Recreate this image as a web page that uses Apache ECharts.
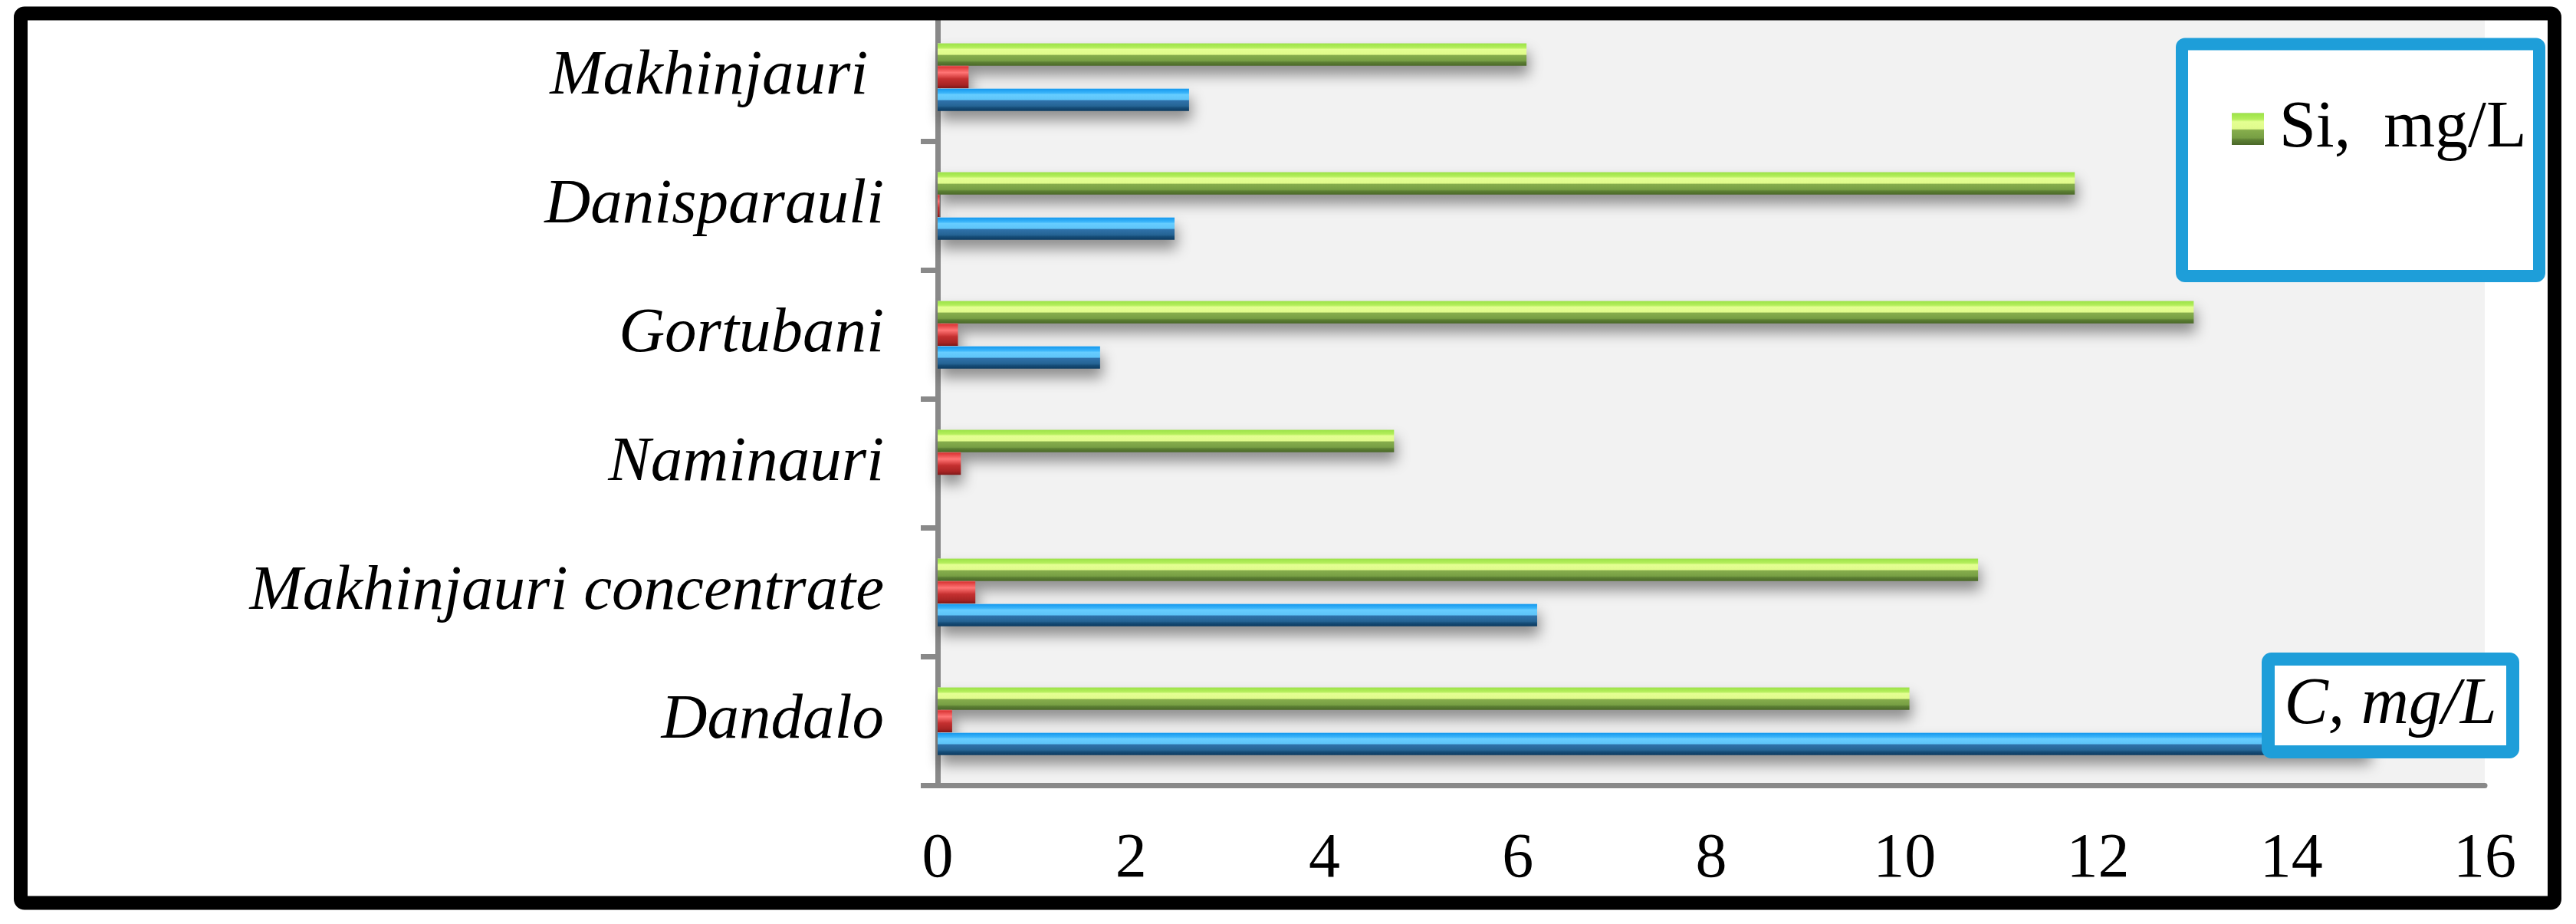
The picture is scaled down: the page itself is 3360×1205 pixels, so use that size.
<!DOCTYPE html>
<html>
<head>
<meta charset="utf-8">
<script src="https://cdn.jsdelivr.net/npm/echarts@6/dist/echarts.min.js"></script>
<style>
  html, body { margin: 0; padding: 0; background: #ffffff; }
  #chart { width: 3360px; height: 1205px; }
</style>
</head>
<body>
<div id="chart"></div>
<script>
// ---- data (bottom category first, as ECharts lays out a category y axis) ----
const categories = ['Dandalo', 'Makhinjauri concentrate', 'Naminauri', 'Gortubani', 'Danisparauli', 'Makhinjauri '];
const blueValues  = [14.8, 6.20, null, 1.68, 2.45, 2.60];
const redValues   = [0.15, 0.39, 0.24, 0.21, 0.02, 0.32];
const siValues    = [10.05, 10.76, 4.72, 12.99, 11.76, 6.09];
const valueTicks  = { min: 0, max: 16, interval: 2 };
const siName = 'Si,  mg/L';
const axisNote = 'C, mg/L';

const grad = (stops) => new echarts.graphic.LinearGradient(0, 0, 0, 1,
  stops.map(s => ({ offset: s[0], color: s[1] })));

const greenFill = grad([[0, '#c3e39a'], [0.04, '#9fe44a'], [0.2, '#b4ee5c'], [0.28, '#e4ff92'], [0.5, '#e0fb8c'], [0.54, '#86ad4c'], [0.78, '#779f44'], [0.84, '#5d8034'], [1, '#4a6828']]);
const blueFill  = grad([[0, '#a9d6f2'], [0.04, '#1a9cef'], [0.2, '#3ab4fa'], [0.28, '#66cdff'], [0.5, '#5ec4f8'], [0.54, '#2f72ab'], [0.78, '#256494'], [0.86, '#164d78'], [1, '#0c3a60']]);
const redFill   = grad([[0, '#e86060'], [0.06, '#dd3a3a'], [0.3, '#ff7474'], [0.5, '#d84444'], [0.58, '#c43030'], [0.85, '#a82424'], [1, '#7f1818']]);

const shadow = { shadowColor: 'rgba(0,0,0,0.42)', shadowBlur: 18, shadowOffsetX: 3, shadowOffsetY: 12 };

const chart = echarts.init(document.getElementById('chart'), null, { renderer: 'canvas' });
chart.setOption({
  backgroundColor: '#ffffff',
  animation: false,
  grid: {
    left: 1223, right: 119, top: 16.5, bottom: 180.5,
    show: true, backgroundColor: '#f2f2f2', borderWidth: 0
  },
  legend: {
    data: [siName],
    left: 2906, top: 120,
    itemWidth: 42, itemHeight: 42,
    icon: 'rect',
    textStyle: { fontFamily: 'Liberation Serif', fontSize: 86, color: '#000', lineHeight: 86, padding: [0, 0, 0, 15] },
    z: 20
  },
  xAxis: {
    type: 'value',
    min: valueTicks.min, max: valueTicks.max, interval: valueTicks.interval,
    axisLine: { show: true, lineStyle: { color: '#898989', width: 7 } },
    axisTick: { show: false },
    splitLine: { show: false },
    axisLabel: { fontFamily: 'Liberation Serif', fontSize: 82, color: '#000', margin: 56 }
  },
  yAxis: {
    type: 'category',
    data: categories,
    axisLine: { show: true, lineStyle: { color: '#898989', width: 7 } },
    axisTick: { show: true, length: 22, lineStyle: { color: '#898989', width: 7 } },
    axisLabel: { fontFamily: 'Liberation Serif', fontStyle: 'italic', fontSize: 83, color: '#000', margin: 70 },
    splitLine: { show: false }
  },
  series: [
    { name: siName, type: 'bar', data: siValues, barWidth: 29.5, barGap: '0%',
      itemStyle: Object.assign({ color: greenFill }, shadow) },
    { name: 'Series 2', type: 'bar', data: redValues, barWidth: 29.5, barGap: '0%',
      itemStyle: Object.assign({ color: redFill }, shadow) },
    { name: 'Series 1', type: 'bar', data: blueValues, barWidth: 29.5, barGap: '0%',
      itemStyle: Object.assign({ color: blueFill }, shadow) }
  ],
  graphic: [
    { type: 'rect', z: 1, shape: { x: 2846, y: 57.5, width: 466, height: 302.5, r: 4 },
      style: { fill: '#ffffff', stroke: '#1e9ed9', lineWidth: 16 } },
    { type: 'rect', z: 100, shape: { x: 2958.5, y: 859.5, width: 319, height: 121, r: 4 },
      style: { fill: '#ffffff', stroke: '#1e9ed9', lineWidth: 17 } },
    { type: 'text', z: 101, x: 3118, y: 920,
      style: { text: axisNote, fontFamily: 'Liberation Serif', fontStyle: 'italic', fontSize: 86,
               fill: '#000', align: 'center', verticalAlign: 'middle' } },
    { type: 'rect', z: 100, shape: { x: 27, y: 17.5, width: 3305, height: 1160, r: 5 },
      style: { fill: 'none', stroke: '#000000', lineWidth: 18 } }
  ]
});
</script>
</body>
</html>
